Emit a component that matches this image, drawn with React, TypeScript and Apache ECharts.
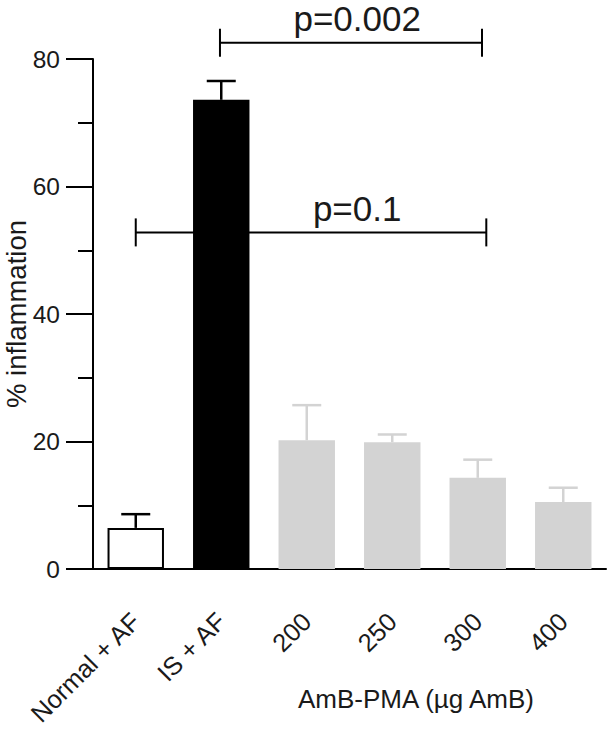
import React, { useEffect, useRef } from "react";
import * as echarts from "echarts";

const categories = ["Normal + AF", "IS + AF", "200", "250", "300", "400"];
const means = [6.45, 73.6, 20.2, 19.9, 14.3, 10.5];
const sems = [2.15, 2.95, 5.5, 1.2, 2.85, 2.25];
const barColors = ["#ffffff", "#000000", "#d3d3d3", "#d3d3d3", "#d3d3d3", "#d3d3d3"];
const errColors = ["#000000", "#000000", "#d3d3d3", "#d3d3d3", "#d3d3d3", "#d3d3d3"];
const yTicks = [0, 20, 40, 60, 80];

// significance brackets: [start category pos, end category pos, y level, label x pos]
const bracketStart = [0.985, 0.0];
const bracketEnd = [4.05, 4.1];
const bracketLevel = [82.55, 52.8];
const bracketLabelX = [2.59, 2.59];
const bracketLabels = ["p=0.002", "p=0.1"];

const FONT = "'Liberation Sans', Arial, Helvetica, sans-serif";

export default function App() {
  const ref = useRef<HTMLDivElement>(null);
  useEffect(() => {
    if (!ref.current) return;
    const chart = echarts.init(ref.current, undefined, { renderer: "svg" });
    const option: any = {
      animation: false,
      backgroundColor: "#ffffff",
      grid: { left: 93, right: 3, top: 59, bottom: 161, containLabel: false, outerBoundsMode: "none" },
      xAxis: [
        {
          type: "category",
          data: categories,
          axisLine: { onZero: false, lineStyle: { color: "#000", width: 2 } },
          axisTick: { alignWithLabel: true, length: 27, lineStyle: { color: "#000", width: 2 } },
          axisLabel: {
            rotate: 45,
            margin: 48,
            fontSize: 25.5,
            color: "#1a1a1a",
            fontFamily: FONT,
            interval: 0,
          },
        },
        { type: "value", min: -0.5, max: 5.5, show: false },
      ],
      yAxis: {
        type: "value",
        min: 0,
        max: 80,
        interval: 20,
        name: "% inflammation",
        nameLocation: "middle",
        nameGap: 63,
        nameMoveOverlap: false,
        nameTextStyle: { fontSize: 27.5, color: "#1a1a1a", fontFamily: FONT },
        axisLine: { show: true, onZero: false, lineStyle: { color: "#000", width: 2 } },
        axisTick: { show: true, length: 27, lineStyle: { color: "#000", width: 2 } },
        minorTick: { show: true, splitNumber: 2, length: 15, lineStyle: { color: "#000", width: 2 } },
        splitLine: { show: false },
        axisLabel: {
          fontSize: 24.5,
          color: "#1a1a1a",
          fontFamily: FONT,
          margin: 33,
          formatter: (v: number) => (yTicks.includes(v) ? String(v) : ""),
        },
      },
      series: [
        {
          type: "bar",
          data: means.map((m, i) => ({
            value: m,
            itemStyle: {
              color: barColors[i],
              borderColor: i === 0 ? "#000" : barColors[i],
              borderWidth: i === 0 ? 2 : 0,
            },
          })),
          barWidth: "66%",
          z: 2,
        },
        {
          type: "custom",
          xAxisIndex: 0,
          z: 3,
          clip: false,
          data: means.map((m, i) => [i, m, sems[i]]),
          renderItem: (params: any, api: any) => {
            const i = params.dataIndex;
            const x = api.value(0);
            const m = api.value(1);
            const e = api.value(2);
            const base = api.coord([x, m]);
            const top = api.coord([x, m + e]);
            const half = 14.5;
            const style = { stroke: errColors[i], lineWidth: 2.5 };
            return {
              type: "group",
              children: [
                { type: "line", shape: { x1: base[0], y1: base[1], x2: top[0], y2: top[1] }, style },
                { type: "line", shape: { x1: top[0] - half, y1: top[1], x2: top[0] + half, y2: top[1] }, style },
              ],
            };
          },
        },
        {
          type: "custom",
          xAxisIndex: 1,
          z: 4,
          clip: false,
          data: bracketLevel.map((y, i) => [bracketStart[i], bracketEnd[i], y, bracketLabelX[i]]),
          renderItem: (params: any, api: any) => {
            const i = params.dataIndex;
            const p1 = api.coord([api.value(0), api.value(2)]);
            const p2 = api.coord([api.value(1), api.value(2)]);
            const pt = api.coord([api.value(3), api.value(2)]);
            const tick = 14;
            const style = { stroke: "#000", lineWidth: 2 };
            return {
              type: "group",
              children: [
                { type: "line", shape: { x1: p1[0], y1: p1[1], x2: p2[0], y2: p2[1] }, style },
                { type: "line", shape: { x1: p1[0], y1: p1[1] - tick, x2: p1[0], y2: p1[1] + tick }, style },
                { type: "line", shape: { x1: p2[0], y1: p2[1] - tick, x2: p2[0], y2: p2[1] + tick }, style },
                {
                  type: "text",
                  style: {
                    x: pt[0],
                    y: pt[1] - 24,
                    text: bracketLabels[i],
                    align: "center",
                    verticalAlign: "middle",
                    fontSize: 35,
                    fontFamily: FONT,
                    fill: "#1a1a1a",
                  },
                },
              ],
            };
          },
        },
      ],
      graphic: [
        {
          type: "text",
          left: 298,
          top: 686,
          style: {
            text: "AmB-PMA (\u00b5g AmB)",
            fontSize: 26,
            fontFamily: FONT,
            fill: "#1a1a1a",
          },
        },
      ],
    };
    chart.setOption(option);
    return () => chart.dispose();
  }, []);
  return (
    <div
      ref={ref}
      style={{ position: "absolute", left: 0, top: 0, width: 609, height: 730, background: "#fff" }}
    />
  );
}
